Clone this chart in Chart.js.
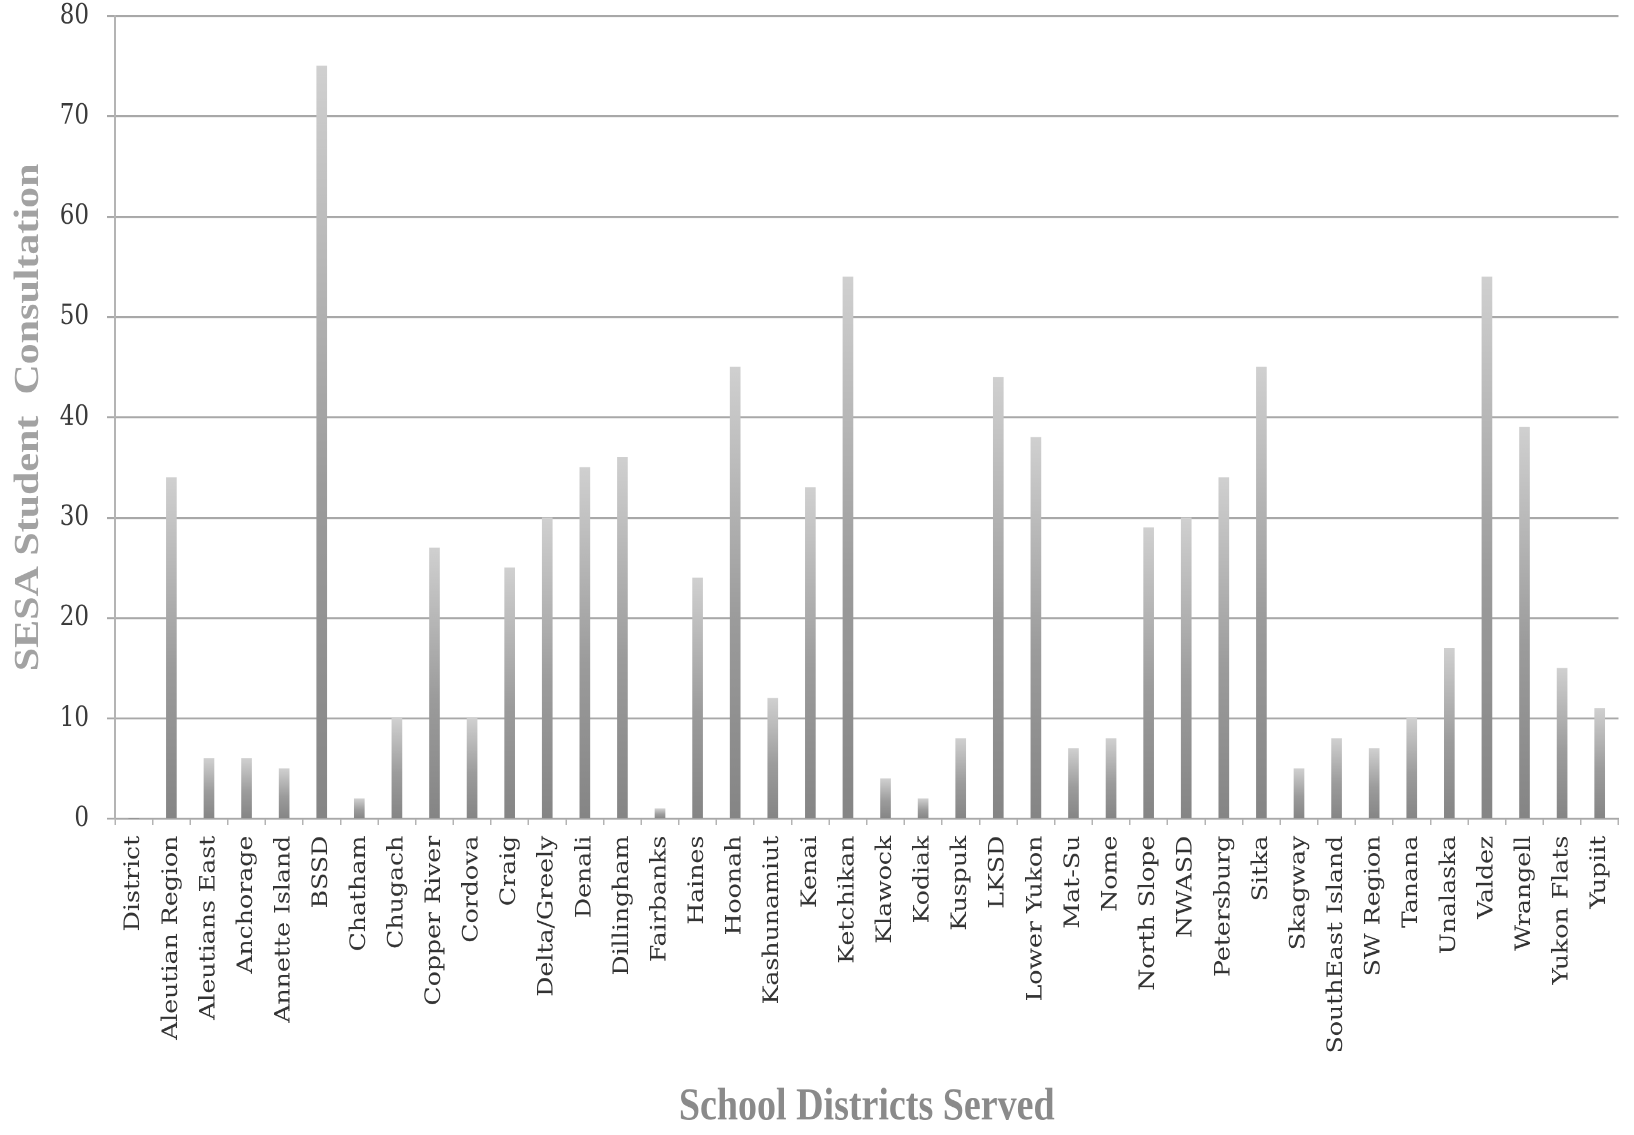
<!DOCTYPE html>
<html>
<head>
<meta charset="utf-8">
<title>SESA Student Consultation by School District</title>
<script src="https://cdn.jsdelivr.net/npm/chart.js@4.4.1/dist/chart.umd.min.js"></script>
<style>
  html, body { margin: 0; padding: 0; background: #ffffff; }
  #chart { display: block; width: 1634px; height: 1135px; }
</style>
</head>
<body>
<!-- drawn at 946px tall and shown at 1135px, giving the tall, narrow lettering of the printed figure -->
<canvas id="chart" width="1634" height="946" style="width:1634px;height:1135px;"></canvas>
<script>
const districts = [
  'District', 'Aleutian Region', 'Aleutians East', 'Anchorage', 'Annette Island',
  'BSSD', 'Chatham', 'Chugach', 'Copper River', 'Cordova',
  'Craig', 'Delta/Greely', 'Denali', 'Dillingham', 'Fairbanks',
  'Haines', 'Hoonah', 'Kashunamiut', 'Kenai', 'Ketchikan',
  'Klawock', 'Kodiak', 'Kuspuk', 'LKSD', 'Lower Yukon',
  'Mat-Su', 'Nome', 'North Slope', 'NWASD', 'Petersburg',
  'Sitka', 'Skagway', 'SouthEast Island', 'SW Region', 'Tanana',
  'Unalaska', 'Valdez', 'Wrangell', 'Yukon Flats', 'Yupiit'
];

const consultations = [
  0, 34, 6, 6, 5,
  75, 2, 10, 27, 10,
  25, 30, 35, 36, 1,
  24, 45, 12, 33, 54,
  4, 2, 8, 44, 38,
  7, 8, 29, 30, 34,
  45, 5, 8, 7, 10,
  17, 54, 39, 15, 11
];

const yTicks = [0, 10, 20, 30, 40, 50, 60, 70, 80];

const yTitle = 'SESA Student  Consultation';
const xTitle = 'School Districts Served';

// Each bar fades from a darker grey at its base to a pale grey at its top.
function barFill(context) {
  const chart = context.chart;
  const area = chart.chartArea;
  if (!area) return '#8c8c8c';
  const y = chart.scales.y;
  const base = y.getPixelForValue(0);
  const top = y.getPixelForValue(context.raw);
  if (base - top < 1) return '#8c8c8c';
  const g = chart.ctx.createLinearGradient(0, base, 0, top);
  g.addColorStop(0, '#858585');
  g.addColorStop(0.45, '#9c9c9c');
  g.addColorStop(1, '#d0d0d0');
  return g;
}

new Chart(document.getElementById('chart'), {
  type: 'bar',
  data: {
    labels: districts,
    datasets: [{
      data: consultations,
      backgroundColor: barFill,
      borderWidth: 0,
      barThickness: 10
    }]
  },
  options: {
    responsive: false,
    animation: false,
    devicePixelRatio: 2,
    layout: { padding: { top: 0, right: 9, bottom: 0, left: 0 } },
    plugins: {
      legend: { display: false },
      tooltip: { enabled: false }
    },
    scales: {
      x: {
        offset: true,
        grid: {
          offset: true,
          drawOnChartArea: false,
          drawTicks: true,
          tickLength: 5,
          color: '#b4b4b4',
          lineWidth: 1.5
        },
        border: { display: true, color: '#a8a8a8', width: 1.6 },
        ticks: {
          autoSkip: false,
          minRotation: 90,
          maxRotation: 90,
          padding: 9,
          color: '#333333',
          font: { family: '"DejaVu Serif", serif', size: 21 }
        },
        title: {
          display: true,
          text: xTitle,
          color: '#8a8a8a',
          padding: { top: 0, bottom: 0 },
          font: { family: '"Liberation Serif", "Times New Roman", serif', size: 38, weight: 'bold' }
        },
        afterFit: (scale) => { scale.height = 263.5; }
      },
      y: {
        min: 0,
        max: 80,
        afterBuildTicks: (scale) => { scale.ticks = yTicks.map(v => ({ value: v })); },
        grid: {
          color: '#a8a8a8',
          lineWidth: 1.6,
          drawTicks: true,
          tickLength: 8
        },
        border: { display: true, color: '#b4b4b4', width: 2 },
        ticks: {
          padding: 18,
          color: '#3a3a3a',
          font: { family: '"DejaVu Serif", serif', size: 23, lineHeight: 1 }
        },
        title: {
          display: true,
          text: yTitle,
          color: '#a2a2a2',
          padding: { top: 8, bottom: 0 },
          font: { family: '"Liberation Serif", "Times New Roman", serif', size: 35, weight: 'bold' }
        },
        afterFit: (scale) => {
          scale.width = 115;
          scale.paddingTop = 13.3;
          scale.paddingBottom = 12;
        }
      }
    }
  }
});
</script>
</body>
</html>
